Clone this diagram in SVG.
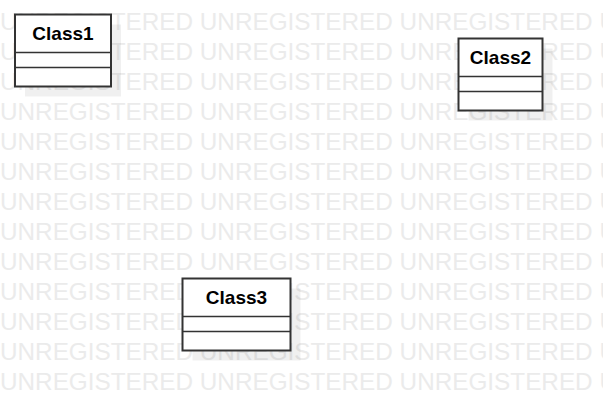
<svg xmlns="http://www.w3.org/2000/svg" width="603" height="411" viewBox="0 0 603 411">
  <style>
    .wm { font-family: "Liberation Sans", Arial, sans-serif; font-size: 24.3px; fill: #ebebeb; }
    .shadow { fill: #000000; fill-opacity: 0.06; }
    .box { fill: #ffffff; stroke: #333333; stroke-width: 2; }
    .div { stroke: #333333; stroke-width: 1.5; }
    .name { font-family: "Liberation Sans", Arial, sans-serif; font-size: 19px; font-weight: bold; fill: #000000; text-anchor: middle; }
  </style>
  <rect x="0" y="0" width="603" height="411" fill="#ffffff"/>
  <g id="watermark">
    <text class="wm" x="0" y="30">UNREGISTERED UNREGISTERED UNREGISTERED UNREGISTERED</text>
    <text class="wm" x="0" y="60">UNREGISTERED UNREGISTERED UNREGISTERED UNREGISTERED</text>
    <text class="wm" x="0" y="90">UNREGISTERED UNREGISTERED UNREGISTERED UNREGISTERED</text>
    <text class="wm" x="0" y="120">UNREGISTERED UNREGISTERED UNREGISTERED UNREGISTERED</text>
    <text class="wm" x="0" y="150">UNREGISTERED UNREGISTERED UNREGISTERED UNREGISTERED</text>
    <text class="wm" x="0" y="180">UNREGISTERED UNREGISTERED UNREGISTERED UNREGISTERED</text>
    <text class="wm" x="0" y="210">UNREGISTERED UNREGISTERED UNREGISTERED UNREGISTERED</text>
    <text class="wm" x="0" y="240">UNREGISTERED UNREGISTERED UNREGISTERED UNREGISTERED</text>
    <text class="wm" x="0" y="270">UNREGISTERED UNREGISTERED UNREGISTERED UNREGISTERED</text>
    <text class="wm" x="0" y="300">UNREGISTERED UNREGISTERED UNREGISTERED UNREGISTERED</text>
    <text class="wm" x="0" y="330">UNREGISTERED UNREGISTERED UNREGISTERED UNREGISTERED</text>
    <text class="wm" x="0" y="360">UNREGISTERED UNREGISTERED UNREGISTERED UNREGISTERED</text>
    <text class="wm" x="0" y="390">UNREGISTERED UNREGISTERED UNREGISTERED UNREGISTERED</text>
  </g>
  <g id="connectors"></g>
  <g id="Class1">
    <rect class="shadow" x="25" y="24.5" width="96" height="72"/>
    <rect class="box" x="15" y="14.5" width="96" height="72"/>
    <line class="div" x1="15" y1="52.5" x2="111" y2="52.5"/>
    <line class="div" x1="15" y1="67.5" x2="111" y2="67.5"/>
    <text class="name" x="63" y="40">Class1</text>
  </g>
  <g id="Class2">
    <rect class="shadow" x="468.5" y="48.5" width="84" height="72"/>
    <rect class="box" x="458.5" y="38.5" width="84" height="72"/>
    <line class="div" x1="458.5" y1="76.5" x2="542.5" y2="76.5"/>
    <line class="div" x1="458.5" y1="91.5" x2="542.5" y2="91.5"/>
    <text class="name" x="500.5" y="64">Class2</text>
  </g>
  <g id="Class3">
    <rect class="shadow" x="192.5" y="288.5" width="108" height="72"/>
    <rect class="box" x="182.5" y="278.5" width="108" height="72"/>
    <line class="div" x1="182.5" y1="316.5" x2="290.5" y2="316.5"/>
    <line class="div" x1="182.5" y1="331.5" x2="290.5" y2="331.5"/>
    <text class="name" x="236.5" y="304">Class3</text>
  </g>
</svg>
